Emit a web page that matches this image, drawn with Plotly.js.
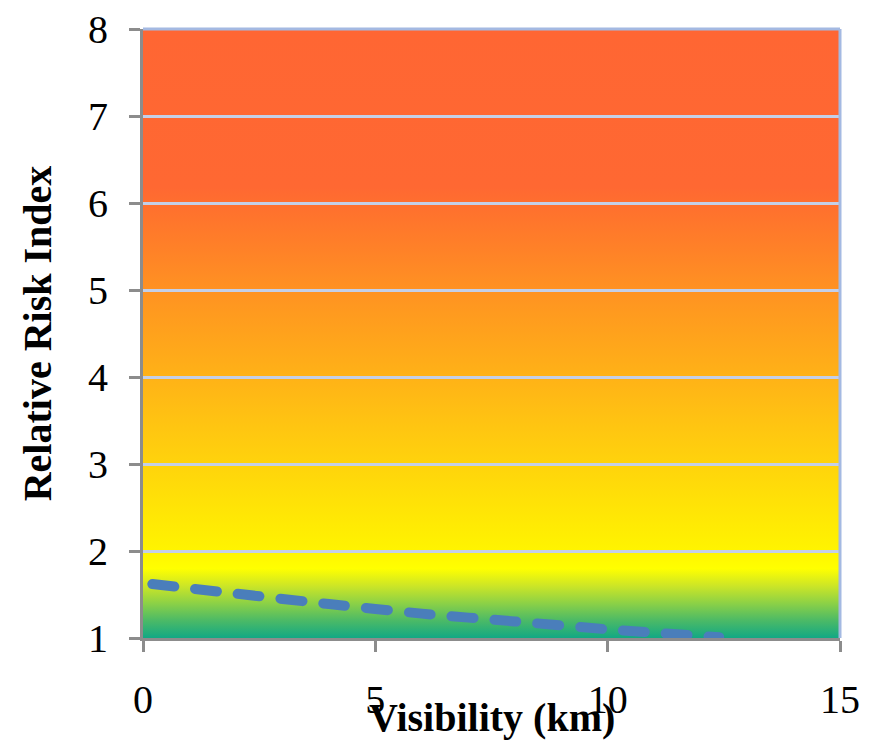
<!DOCTYPE html>
<html>
<head>
<meta charset="utf-8">
<script src="https://cdn.plot.ly/plotly-3.0.1.min.js"></script>
<style>
  html, body { margin: 0; padding: 0; background: #ffffff; }
  #chart { width: 876px; height: 740px; }
</style>
</head>
<body>
<div id="chart"></div>
<script>
// ---- data ----
const visibilityKm = [0.2, 2, 4, 6, 8, 10, 12.4];
const riskIndex    = [1.62, 1.51, 1.39, 1.28, 1.19, 1.10, 1.01];
const xTicks = [0, 5, 10, 15];
const yTicks = [1, 2, 3, 4, 5, 6, 7, 8];
const xRange = [0, 15];
const yRange = [1, 8];

// ---- background gradient (decorative risk colouring) ----
const gradStops = [
  [0.000, '#FF6633'], [0.260, '#FF6832'], [0.300, '#FF722D'],
  [0.357, '#FF8028'], [0.4286, '#FF9222'], [0.500, '#FFA21C'],
  [0.5714, '#FFB217'], [0.643, '#FFC312'], [0.714, '#FFD30C'],
  [0.786, '#FFE406'], [0.857, '#FFF400'], [0.886, '#FFFF00'],
  [0.914, '#CDE626'], [0.943, '#8CD146'], [0.971, '#4CBA66'],
  [1.000, '#12A884']
];
const svg = '<svg xmlns="http://www.w3.org/2000/svg" width="100" height="700" viewBox="0 0 100 700" preserveAspectRatio="none">' +
  '<defs><linearGradient id="g" x1="0" y1="0" x2="0" y2="1">' +
  gradStops.map(s => '<stop offset="' + s[0] + '" stop-color="' + s[1] + '"/>').join('') +
  '</linearGradient></defs><rect x="0" y="0" width="100" height="700" fill="url(#g)"/></svg>';
const bgUri = 'data:image/svg+xml;base64,' + btoa(svg);

const serif = '"Liberation Serif", "DejaVu Serif", serif';

const traces = [{
  type: 'scatter',
  mode: 'lines',
  x: visibilityKm,
  y: riskIndex,
  line: { color: '#4A7EBB', width: 10, dash: '22px,21px', shape: 'spline', smoothing: 0.6 },
  hoverinfo: 'x+y',
  showlegend: false,
  cliponaxis: true
}];

const layout = {
  width: 876,
  height: 740,
  margin: { l: 143, r: 36, t: 29, b: 102 },
  paper_bgcolor: '#ffffff',
  plot_bgcolor: 'rgba(0,0,0,0)',
  showlegend: false,
  font: { family: serif, color: '#000000' },
  xaxis: {
    range: xRange,
    tickvals: xTicks,
    ticktext: xTicks.map(String),
    showgrid: false,
    zeroline: false,
    showline: true,
    linecolor: '#8C8C8C',
    linewidth: 3,
    ticks: 'outside',
    ticklen: 11,
    tickwidth: 3,
    tickcolor: '#8C8C8C',
    tickfont: { family: serif, size: 40, color: '#000000' },
    ticklabelstandoff: 13,
    fixedrange: true
  },
  yaxis: {
    range: yRange,
    tickvals: yTicks,
    ticktext: yTicks.map(String),
    showgrid: true,
    gridcolor: '#C4CFE7',
    gridwidth: 3,
    zeroline: false,
    showline: true,
    linecolor: '#8C8C8C',
    linewidth: 3,
    ticks: 'outside',
    ticklen: 11,
    tickwidth: 3,
    tickcolor: '#8C8C8C',
    tickfont: { family: serif, size: 40, color: '#000000' },
    ticklabelstandoff: 13,
    title: {
      text: '<b>Relative Risk Index</b>',
      font: { family: serif, size: 40, color: '#000000' },
      standoff: 25
    },
    automargin: false,
    fixedrange: true
  },
  images: [{
    source: bgUri,
    xref: 'x', yref: 'y',
    x: xRange[0], y: yRange[1],
    sizex: xRange[1] - xRange[0],
    sizey: yRange[1] - yRange[0],
    xanchor: 'left', yanchor: 'top',
    sizing: 'stretch',
    layer: 'below'
  }],
  shapes: [
    { type: 'line', xref: 'paper', yref: 'paper', x0: 0, x1: 1, y0: 1, y1: 1,
      line: { color: '#A4B9E2', width: 3 }, layer: 'above' },
    { type: 'line', xref: 'paper', yref: 'paper', x0: 1, x1: 1, y0: 0, y1: 1,
      line: { color: '#A4B9E2', width: 3 }, layer: 'above' }
  ],
  annotations: [{
    text: '<b>Visibility (km)</b>',
    xref: 'paper', yref: 'paper',
    x: 0.5, y: -0.131,
    xanchor: 'center', yanchor: 'middle',
    showarrow: false,
    font: { family: serif, size: 40, color: '#000000' }
  }]
};

function roundCaps() {
  document.querySelectorAll('#chart .scatterlayer .js-line').forEach(p => {
    p.style.strokeLinecap = 'round';
    p.style.strokeLinejoin = 'round';
  });
}

Plotly.newPlot('chart', traces, layout, { displayModeBar: false, staticPlot: true }).then(roundCaps);
</script>
</body>
</html>
